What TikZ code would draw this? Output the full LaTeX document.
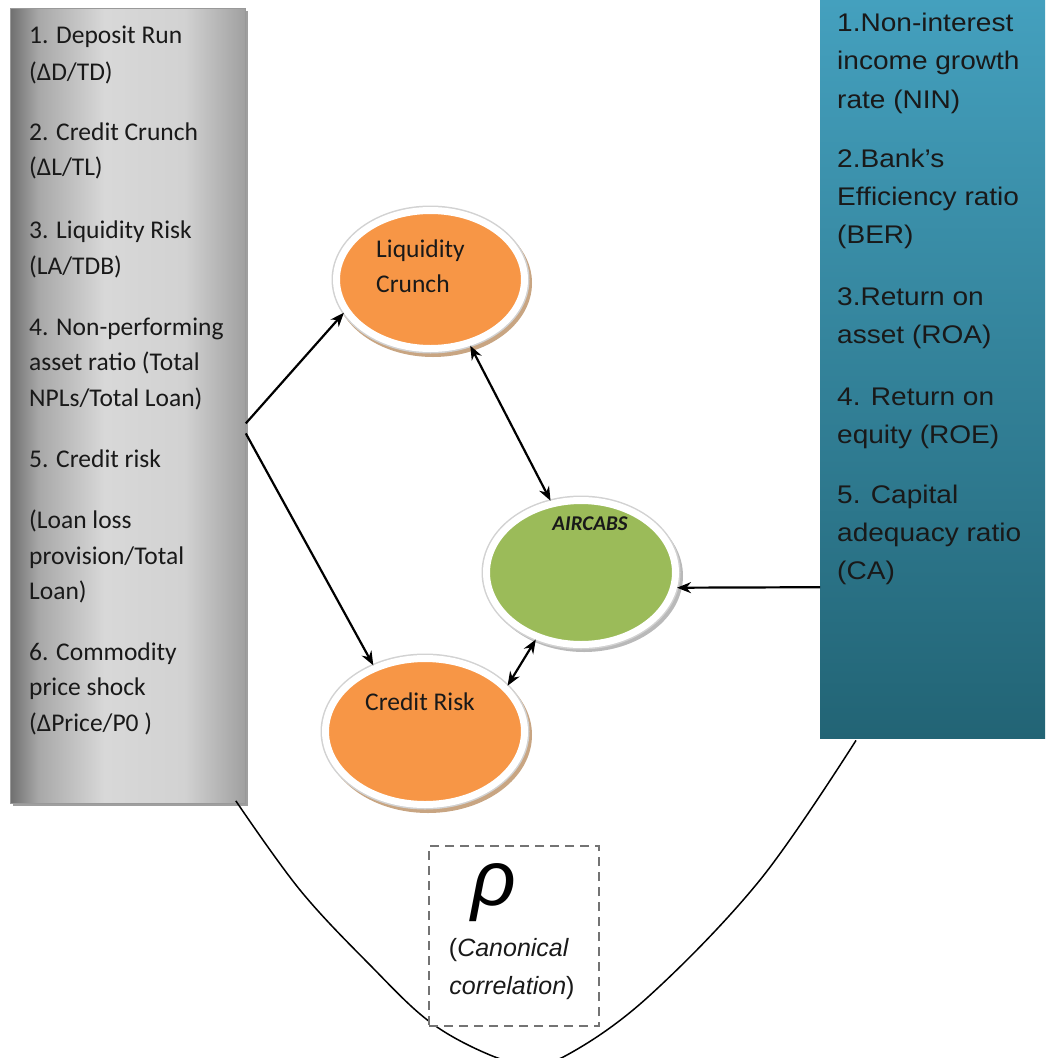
\documentclass[tikz,border=0pt]{standalone}
\usepackage{fontspec}
\setmainfont{Carlito}
\newfontfamily\arialf[FakeStretch=1.1]{Liberation Sans}
\newfontfamily\arialn{Liberation Sans}
\usetikzlibrary{arrows.meta,calc,shapes.geometric}

\definecolor{orng}{RGB}{247,150,70}
\definecolor{grn}{RGB}{155,187,89}
\definecolor{tealT}{RGB}{68,160,190}
\definecolor{tealB}{RGB}{34,100,117}
\definecolor{m0}{RGB}{112,112,112}
\definecolor{m1}{RGB}{168,168,168}
\definecolor{m2}{RGB}{216,216,216}
\definecolor{m3}{RGB}{210,210,210}
\definecolor{m4}{RGB}{160,160,160}
\definecolor{tan}{RGB}{200,165,130}
\pgfdeclarehorizontalshading{metal}{100bp}{color(0bp)=(m0); color(25bp)=(m0); color(31bp)=(m1); color(45bp)=(m2); color(62bp)=(m3); color(75bp)=(m4); color(100bp)=(m4)}

\tikzset{
  ltext/.style={anchor=base west, inner sep=0pt, font=\fontsize{25.5}{30}\selectfont, text=black!90},
  rtext/.style={anchor=base west, inner sep=0pt, font=\arialf\fontsize{25.5}{30}\selectfont, text=black!90},
  etext/.style={anchor=base west, inner sep=0pt, font=\fontsize{25.5}{30}\selectfont, text=black!90},
  blob/.style={ellipse, draw=white, line width=7pt, preaction={draw=gray!35, line width=10pt}, inner sep=0pt},
  arr/.style={line width=2.2pt, -{Stealth[length=14pt,width=11pt]}},
  darr/.style={line width=2.2pt, {Stealth[length=14pt,width=11pt]}-{Stealth[length=14pt,width=11pt]}},
}

\begin{document}
\begin{tikzpicture}[x=1pt,y=-1pt]
\useasboundingbox (0,0) rectangle (1045,1058);

% left grey box
\fill[gray!75] (13,11) rectangle (248,806);
\node[shading=metal, draw=gray!80, line width=0.8pt, minimum width=235pt, minimum height=795pt, inner sep=0pt, anchor=north west] (lbox) at (10,8) {};

% right teal box
\node[top color=tealT, bottom color=tealB, minimum width=225pt, minimum height=738pt, inner sep=0pt, anchor=north west] (rbox) at (820,0) {};

% left texts
\node[ltext] (l1) at (29,43) {1. Deposit Run};
\node[ltext] (l2) at (29,80) {(ΔD/TD)};
\node[ltext] (l3) at (29,140) {2. Credit Crunch};
\node[ltext] (l4) at (29,175) {(ΔL/TL)};
\node[ltext] (l5) at (29,238) {3. Liquidity Risk};
\node[ltext] (l6) at (29,274) {(LA/TDB)};
\node[ltext] (l7) at (29,335) {4. Non-performing};
\node[ltext] (l8) at (29,370) {asset ratio (Total};
\node[ltext] (l9) at (29,406) {NPLs/Total Loan)};
\node[ltext] (l10) at (29,467) {5. Credit risk};
\node[ltext] (l11) at (29,528) {(Loan loss};
\node[ltext] (l12) at (29,564) {provision/Total};
\node[ltext] (l13) at (29,599) {Loan)};
\node[ltext] (l14) at (29,660) {6. Commodity};
\node[ltext] (l15) at (29,695) {price shock};
\node[ltext] (l16) at (29,731) {(ΔPrice/P0 )};

% right texts
\node[rtext] (r1) at (837,31) {1.Non-interest};
\node[rtext] (r2) at (837,69) {income growth};
\node[rtext] (r3) at (837,108) {rate (NIN)};
\node[rtext] (r4) at (837,167) {2.Bank’s};
\node[rtext] (r5) at (837,205) {Efficiency ratio};
\node[rtext] (r6) at (837,243) {(BER)};
\node[rtext] (r7) at (837,305) {3.Return on};
\node[rtext] (r8) at (837,343) {asset (ROA)};
\node[rtext] (r9) at (837,405) {4. Return on};
\node[rtext] (r10) at (837,443) {equity (ROE)};
\node[rtext] (r11) at (837,503) {5. Capital};
\node[rtext] (r12) at (837,541) {adequacy ratio};
\node[rtext] (r13) at (837,579) {(CA)};

% ellipse shadows
\fill[tan] (433,283) ellipse [x radius=99, y radius=74];
\fill[gray!55] (584,576) ellipse [x radius=99, y radius=76];
\fill[tan] (428,735) ellipse [x radius=104, y radius=78];

% ellipses
\node[blob, fill=orng, minimum width=188pt, minimum height=138pt] (lc) at (430.5,279.5) {};
\node[blob, fill=grn, minimum width=189pt, minimum height=144pt] (air) at (581,572.5) {};
\node[blob, fill=orng, minimum width=199pt, minimum height=146pt] (cr) at (425,731.5) {};

\node[etext] (lct1) at (376,257) {Liquidity};
\node[etext] (lct2) at (376,292) {Crunch};
\node[etext] (crt) at (365,710) {Credit Risk};
\node[anchor=base, inner sep=0pt, font=\bfseries\itshape\fontsize{21}{25}\selectfont, text=black!90] (airt) at (590,530) {AIRCABS};

% connectors
\coordinate (o1) at ($(lbox.east)+(0,17.5)$);
\coordinate (o2) at ($(lbox.east)+(0,27.5)$);
\coordinate (o3) at ($(rbox.west)+(0,218)$);
\draw[arr] (o1) -- (lc.201);
\draw[arr] (o2) -- (cr.128);
\draw[darr] (lc.301) -- (air.113);
\draw[darr] (cr.29) -- (air.236);
\draw[arr] (o3) -- (air.351);

% canonical correlation curve
\coordinate (c0) at ($(lbox.south east)+(-10,-3)$);
\coordinate (c9) at ($(rbox.south west)+(36,2)$);
\draw[line width=1.5pt] plot[smooth, tension=0.6] coordinates {(c0) (300,890) (370,965) (430,1022) (490,1055) (528,1063) (567,1055) (648,997) (760,880) (c9)};

% dashed box
\node[draw=gray!90!black, dash pattern=on 9pt off 6pt, line width=2pt, fill=white, minimum width=170pt, minimum height=180pt, anchor=north west, inner sep=0pt] (cbox) at (428,845) {};
\node[anchor=base, inner sep=0pt, font=\arialn\itshape\fontsize{78}{78}\selectfont] (rho) at (494,905) {ρ};
\node[anchor=base, inner sep=0pt, font=\arialn\fontsize{25}{29}\selectfont, text=black!90] (cc1) at (509,956) {(\textit{Canonical}};
\node[anchor=base, inner sep=0pt, font=\arialn\fontsize{25}{29}\selectfont, text=black!90] (cc2) at (512,994) {\textit{correlation})};
\end{tikzpicture}
\end{document}
